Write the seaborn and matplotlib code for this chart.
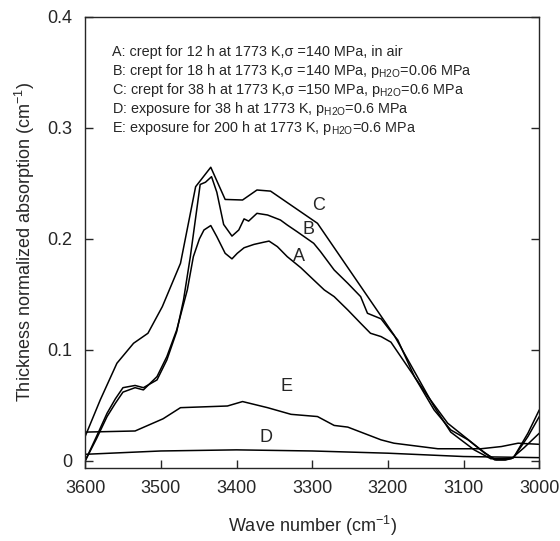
import matplotlib
matplotlib.use("Agg")
import matplotlib.pyplot as plt
import seaborn as sns
import pandas as pd

# Spectra (wave number in cm-1, absorption in cm-1)
wave_a = [3600, 3585, 3571, 3560, 3550, 3534, 3523, 3505, 3492, 3479, 3465, 3457, 3449, 3443,
          3434, 3426, 3415, 3406, 3399, 3390, 3377, 3364, 3357, 3346, 3333, 3315, 3298, 3284,
          3271, 3253, 3236, 3223, 3209, 3196, 3174, 3147, 3121, 3099, 3077, 3059, 3045, 3037,
          3020, 3000]
abs_a = [0.000, 0.020, 0.040, 0.052, 0.062, 0.066, 0.064, 0.076, 0.094, 0.118, 0.154, 0.184,
         0.200, 0.208, 0.212, 0.202, 0.187, 0.182, 0.187, 0.192, 0.195, 0.197, 0.198, 0.193,
         0.184, 0.174, 0.163, 0.154, 0.148, 0.136, 0.124, 0.115, 0.112, 0.107, 0.085, 0.058,
         0.034, 0.022, 0.010, 0.001, 0.001, 0.002, 0.012, 0.025]

wave_b = [3600, 3585, 3571, 3560, 3550, 3534, 3523, 3505, 3492, 3479, 3470, 3461, 3448, 3441,
          3433, 3426, 3417, 3406, 3397, 3390, 3384, 3373, 3359, 3342, 3333, 3320, 3298, 3289,
          3271, 3253, 3236, 3227, 3209, 3196, 3187, 3165, 3139, 3117, 3094, 3072, 3057, 3045,
          3034, 3015, 3000]
abs_b = [0.000, 0.022, 0.043, 0.056, 0.066, 0.068, 0.066, 0.073, 0.091, 0.1165, 0.145, 0.184,
         0.249, 0.251, 0.256, 0.242, 0.213, 0.2025, 0.208, 0.218, 0.216, 0.223, 0.2215, 0.217,
         0.2125, 0.2065, 0.196, 0.1885, 0.172, 0.160, 0.148, 0.133, 0.128, 0.1165, 0.109,
         0.076, 0.046, 0.028, 0.019, 0.007, 0.001, 0.001, 0.003, 0.022, 0.040]

wave_c = [3600, 3580, 3558, 3536, 3517, 3498, 3474, 3454, 3434, 3415, 3392, 3373, 3355, 3293,
          3192, 3139, 3117, 3086, 3064, 3045, 3034, 3015, 3000]
abs_c = [0.022, 0.055, 0.088, 0.106, 0.115, 0.139, 0.178, 0.247, 0.2645, 0.2355, 0.235, 0.244,
         0.243, 0.214, 0.1135, 0.049, 0.026, 0.010, 0.002, 0.002, 0.003, 0.025, 0.046]

wave_d = [3600, 3500, 3400, 3300, 3200, 3100, 3000]
abs_d = [0.006, 0.009, 0.010, 0.009, 0.007, 0.004, 0.003]

wave_e = [3600, 3534, 3497, 3474, 3412, 3392, 3359, 3328, 3293, 3271, 3253, 3209, 3192, 3134,
          3077, 3050, 3028, 3000]
abs_e = [0.026, 0.027, 0.038, 0.048, 0.0495, 0.0535, 0.048, 0.042, 0.040, 0.032, 0.0305,
         0.019, 0.016, 0.011, 0.011, 0.013, 0.016, 0.015]

curve_labels = ["A", "B", "C", "D", "E"]
label_pos = [(3317, 0.184), (3305, 0.208), (3291, 0.230), (3361, 0.021), (3334, 0.067)]

legend_lines = [
    "A: crept for 12 h at 1773 K,\u03c3 =140 MPa, in air",
    "B: crept for 18 h at 1773 K,\u03c3 =140 MPa, p$_{\\mathregular{H2O}}$=0.06 MPa",
    "C: crept for 38 h at 1773 K,\u03c3 =150 MPa, p$_{\\mathregular{H2O}}$=0.6 MPa",
    "D: exposure for 38 h at 1773 K, p$_{\\mathregular{H2O}}$=0.6 MPa",
    "E: exposure for 200 h at 1773 K, p$_{\\mathregular{H2O}}$=0.6 MPa",
]

sns.set_style("ticks")
plt.rcParams["font.family"] = ["Liberation Sans", "DejaVu Sans"]
plt.rcParams["mathtext.fontset"] = "custom"
plt.rcParams["mathtext.rm"] = "Liberation Sans"

fig = plt.figure(figsize=(5.6, 5.41), dpi=100)
ax = fig.add_axes([0.152, 0.135, 0.811, 0.834])

series = [(wave_a, abs_a), (wave_b, abs_b), (wave_c, abs_c), (wave_d, abs_d), (wave_e, abs_e)]
for name, (w, a) in zip(curve_labels, series):
    df = pd.DataFrame({"wave": w, "absorption": a})
    sns.lineplot(data=df, x="wave", y="absorption", color="black", linewidth=1.1, ax=ax)

for name, (x, y) in zip(curve_labels, label_pos):
    ax.text(x, y, name, fontsize=13, ha="center", va="center")

for i, line in enumerate(legend_lines):
    ax.text(0.059, 0.922 - i * 0.042, line, transform=ax.transAxes, fontsize=10.4, va="center")

ax.set_xlim(3600, 3000)
ax.set_ylim(-0.0063, 0.4)
ax.set_xticks([3600, 3500, 3400, 3300, 3200, 3100, 3000])
ax.set_yticks([0, 0.1, 0.2, 0.3, 0.4])
ax.set_yticklabels(["0", "0.1", "0.2", "0.3", "0.4"])
ax.tick_params(direction="in", length=6, width=1, labelsize=13, right=True, pad=9)
for sp in ax.spines.values():
    sp.set_linewidth(1)
    sp.set_visible(True)
ax.set_xlabel("Wave number (cm$^{\\mathregular{-1}}$)", fontsize=13, labelpad=12)
ax.set_ylabel("Thickness normalized absorption (cm$^{\\mathregular{-1}}$)", fontsize=13, labelpad=8)

fig.savefig("out.png", dpi=100)
